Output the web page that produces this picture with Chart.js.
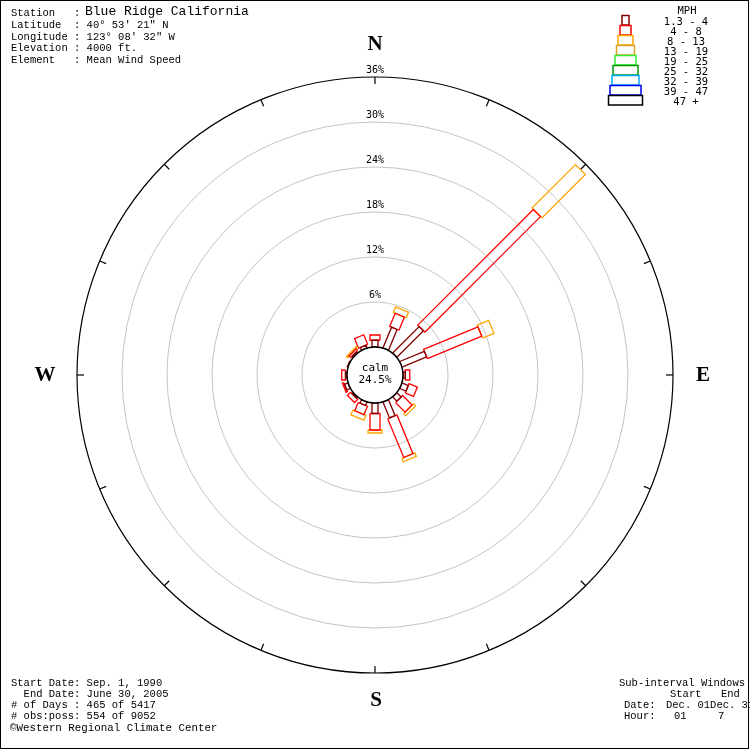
<!DOCTYPE html>
<html><head><meta charset="utf-8">
<script src="https://cdn.jsdelivr.net/npm/chart.js@4.4.1/dist/chart.umd.min.js"></script>
<style>html,body{margin:0;padding:0;background:#fff}#wrap{width:750px;height:750px;position:relative}</style>
</head><body><div id="wrap"><canvas id="c" width="750" height="750"></canvas></div>
<script>
// ---- data ----
const directions = ['N','NNE','NE','ENE','E','ESE','SE','SSE','S','SSW','SW','WSW','W','WNW','NW','NNW'];
const directionAngles = [0,22.5,45,67.5,90,112.5,135,157.5,180,202.5,225,247.5,270,292.5,315,337.5];
const speedClasses = ['1.3 - 4','4 - 8','8 - 13','13 - 19','19 - 25','25 - 32','32 - 39','39 - 47','47 +'];
// percent of observations per direction, by speed class
const speed1to4  = [0.9, 3.0, 5.0, 3.55, 0.3, 0.9, 0.8, 2.3, 1.4, 0.5, 0.2, 0.5, 0.2, 0.1, 0.2, 0.4];
const speed4to8  = [0.7, 1.9, 21.8, 7.85, 0.6, 1.2, 1.8, 5.6, 2.2, 1.2, 0.6, 0.2, 0.5, 0.0, 0.3, 1.4];
const speed8to13 = [0.0, 0.8, 8.2, 1.65, 0.0, 0.0, 0.4, 0.5, 0.4, 0.7, 0.0, 0.0, 0.0, 0.0, 0.2, 0.0];
const speed13to19 = [0,0,0,0,0,0,0,0,0,0,0,0,0,0,0,0];
const speed19to25 = [0,0,0,0,0,0,0,0,0,0,0,0,0,0,0,0];
const speed25to32 = [0,0,0,0,0,0,0,0,0,0,0,0,0,0,0,0];
const speed32to39 = [0,0,0,0,0,0,0,0,0,0,0,0,0,0,0,0];
const speed39to47 = [0,0,0,0,0,0,0,0,0,0,0,0,0,0,0,0];
const speed47plus = [0,0,0,0,0,0,0,0,0,0,0,0,0,0,0,0];
const calmPercent = 24.5;
const ringValues = [6,12,18,24,30,36];
const ringLabels = ['6%','12%','18%','24%','30%','36%'];

// ---- styles ----
const classColors = ['#800000','#ff0000','#ffa500','#daa520','#33ee33','#009900','#00a8ff','#0000ee','#000000'];
const classWidthsPx = [6,10,14,17,20,24,26,30,33];
const PX_PER_UNIT = 7.5;            // axis range -50..50 over 750 px
const CALM_R = 28 / PX_PER_UNIT;    // calm circle radius in axis units

const seriesByClass = [speed1to4,speed4to8,speed8to13,speed13to19,speed19to25,speed25to32,speed32to39,speed39to47,speed47plus];

function petalPolygon(angleDeg, r0, r1, halfW){
  const t = angleDeg*Math.PI/180;
  const ux = Math.sin(t), uy = Math.cos(t);
  const px = Math.cos(t), py = -Math.sin(t);
  return [
    {x: r0*ux + halfW*px, y: r0*uy + halfW*py},
    {x: r1*ux + halfW*px, y: r1*uy + halfW*py},
    {x: r1*ux - halfW*px, y: r1*uy - halfW*py},
    {x: r0*ux - halfW*px, y: r0*uy - halfW*py},
    {x: r0*ux + halfW*px, y: r0*uy + halfW*py}
  ];
}

const datasets = [];
directions.forEach((d, i) => {
  let cum = 0;
  seriesByClass.forEach((series, k) => {
    const v = series[i];
    if (v > 0) {
      const r0 = CALM_R + cum, r1 = CALM_R + cum + v;
      datasets.push({
        label: d + ' ' + speedClasses[k],
        data: petalPolygon(directionAngles[i], r0, r1, classWidthsPx[k]/2/PX_PER_UNIT),
        showLine: true, fill: false, tension: 0,
        borderColor: classColors[k], borderWidth: 1.3,
        pointRadius: 0, pointHoverRadius: 0
      });
    }
    cum += v;
  });
});

const MONO = '"Liberation Mono", "DejaVu Sans Mono", monospace';
const SMONO = '"DejaVu Sans Mono", monospace';

const rosePlugin = {
  id: 'rose',
  beforeDatasetsDraw(chart){
    const ctx = chart.ctx, xs = chart.scales.x, ys = chart.scales.y;
    const cx = xs.getPixelForValue(0), cy = ys.getPixelForValue(0);
    const rpx = v => xs.getPixelForValue(CALM_R + v) - cx;
    ctx.save();
    ringValues.forEach((v, i) => {
      ctx.beginPath();
      ctx.arc(cx, cy, rpx(v), 0, Math.PI*2);
      ctx.lineWidth = i === ringValues.length-1 ? 1.2 : 1;
      ctx.strokeStyle = i === ringValues.length-1 ? '#000' : '#c4c4c4';
      ctx.stroke();
    });
    const R = rpx(ringValues[ringValues.length-1]);
    ctx.strokeStyle = '#000'; ctx.lineWidth = 1.2;
    directionAngles.forEach(a => {
      const t = a*Math.PI/180;
      ctx.beginPath();
      ctx.moveTo(cx + R*Math.sin(t), cy - R*Math.cos(t));
      ctx.lineTo(cx + (R-7)*Math.sin(t), cy - (R-7)*Math.cos(t));
      ctx.stroke();
    });
    ctx.fillStyle = '#000';
    ctx.font = '10px ' + SMONO;
    ctx.textAlign = 'center'; ctx.textBaseline = 'middle';
    ringValues.forEach((v, i) => {
      ctx.fillText(ringLabels[i], cx, cy - rpx(v) - 7);
    });
    ctx.font = 'bold 21px "Liberation Serif", serif';
    const off = R + 34;
    ctx.fillText('N', cx, cy - off + 2);
    ctx.fillText('S', cx + 1, cy + off - 6);
    ctx.fillText('E', cx + off - 4, cy + 1);
    ctx.fillText('W', cx - off + 2, cy + 1);
    ctx.restore();
  },
  afterDatasetsDraw(chart){
    const ctx = chart.ctx, xs = chart.scales.x, ys = chart.scales.y;
    const cx = xs.getPixelForValue(0), cy = ys.getPixelForValue(0);
    const cr = xs.getPixelForValue(CALM_R) - cx;
    ctx.save();
    ctx.beginPath(); ctx.arc(cx, cy, cr, 0, Math.PI*2);
    ctx.fillStyle = '#fff'; ctx.fill();
    ctx.strokeStyle = '#000'; ctx.lineWidth = 1.5; ctx.stroke();
    ctx.fillStyle = '#000';
    ctx.font = '11px ' + SMONO;
    ctx.textAlign = 'center'; ctx.textBaseline = 'middle';
    ctx.fillText('calm', cx, cy - 7);
    ctx.fillText(calmPercent.toFixed(1) + '%', cx, cy + 5);

    ctx.textAlign = 'left';
    ctx.font = '10.5px ' + MONO;
    ctx.fillText('Station   :', 11, 13);
    ctx.font = '13px ' + MONO;
    ctx.fillText('Blue Ridge California', 85, 12);
    ctx.font = '10.5px ' + MONO;
    const head = ['Latitude  : 40\u00b0 53\' 21" N','Longitude : 123\u00b0 08\' 32" W','Elevation : 4000 ft.','Element   : Mean Wind Speed'];
    head.forEach((t, i) => ctx.fillText(t, 11, 25 + i*11.8));

    const foot = ['Start Date: Sep. 1, 1990','  End Date: June 30, 2005','# of Days : 465 of 5417','# obs:poss: 554 of 9052'];
    foot.forEach((t, i) => ctx.fillText(t, 11, 683 + i*11));
    ctx.font = '10.8px ' + MONO;
    ctx.fillText('\u00a9Western Regional Climate Center', 10, 728);

    ctx.font = '10.5px ' + MONO;
    ctx.fillText('Sub-interval Windows', 619, 683);
    ctx.fillText('Start', 670, 694);
    ctx.fillText('End', 721, 694);
    ctx.fillText('Date:', 624, 705);
    ctx.fillText('Dec. 01Dec. 31', 666, 705);
    ctx.fillText('Hour:', 624, 716);
    ctx.fillText('01', 674, 716);
    ctx.fillText('7', 718, 716);

    ctx.textAlign = 'center';
    ctx.font = '10.5px ' + SMONO;
    ctx.fillText('MPH', 687, 11);
    speedClasses.forEach((s, k) => {
      const w = classWidthsPx[k] + 1;
      ctx.strokeStyle = classColors[k];
      ctx.lineWidth = 1.5;
      ctx.strokeRect(625.5 - w/2, 15.5 + k*10, w, 9.5);
      ctx.fillStyle = '#000';
      ctx.fillText(s, 686, 22.5 + k*10);
    });

    ctx.strokeStyle = '#000'; ctx.lineWidth = 1;
    ctx.strokeRect(0.5, 0.5, 748, 748);
    ctx.restore();
  }
};

new Chart(document.getElementById('c'), {
  type: 'scatter',
  data: { datasets },
  options: {
    responsive: false,
    animation: false,
    events: [],
    layout: { padding: 0 },
    plugins: { legend: { display: false }, tooltip: { enabled: false } },
    scales: {
      x: { type: 'linear', min: -50, max: 50, display: false },
      y: { type: 'linear', min: -50, max: 50, display: false }
    }
  },
  plugins: [rosePlugin]
});
</script>
</body></html>
